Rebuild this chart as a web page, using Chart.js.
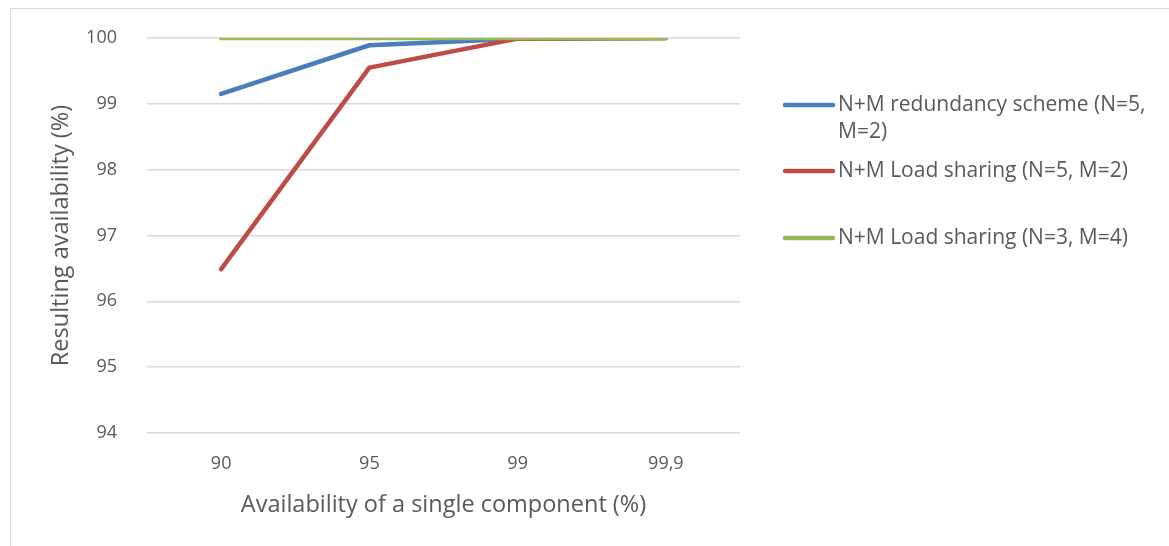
<!DOCTYPE html>
<html>
<head>
<meta charset="utf-8">
<script src="https://cdn.jsdelivr.net/npm/chart.js@4/dist/chart.umd.min.js"></script>
<style>
  html, body { margin: 0; padding: 0; background: #fff; }
  #wrap { position: relative; width: 1169px; height: 546px; overflow: hidden; }
  #frame { position: absolute; left: 10px; top: 8px; width: 1300px; height: 700px; border: 1px solid #d9d9d9; }
  canvas { position: absolute; left: 0; top: 0; }
</style>
</head>
<body>
<div id="wrap">
  <div id="frame"></div>
  <canvas id="myChart" width="1169" height="546"></canvas>
</div>
<script>
// data
var componentLabels = ["90", "95", "99", "99,9"];
var redundancyValues = [99.15, 99.89, 99.99, 100];
var loadSharing52 = [96.49, 99.55, 99.99, 100];
var loadSharing34 = [100, 100, 100, 100];
var seriesNames = [
    ["N+M redundancy scheme (N=5,", "M=2)"],
    ["N+M Load sharing (N=5, M=2)"],
    ["N+M Load sharing (N=3, M=4)"]
];

var textColor = "#595959";
var fontFamily = "'Open Sans', sans-serif";

// legend drawn by hand so the first entry can wrap onto two lines
var sideLegend = {
    id: "sideLegend",
    afterDraw: function (chart) {
        var ctx = chart.ctx;
        var rows = [105, 171, 238];
        ctx.save();
        ctx.font = "21px " + fontFamily;
        ctx.fillStyle = textColor;
        ctx.textBaseline = "middle";
        ctx.lineCap = "round";
        for (var i = 0; i < chart.data.datasets.length; i++) {
            var ds = chart.data.datasets[i];
            ctx.strokeStyle = ds.borderColor;
            ctx.lineWidth = 4.5;
            ctx.beginPath();
            ctx.moveTo(785, rows[i]);
            ctx.lineTo(833, rows[i]);
            ctx.stroke();
            for (var j = 0; j < seriesNames[i].length; j++) {
                ctx.fillText(seriesNames[i][j], 838, rows[i] + j * 27);
            }
        }
        ctx.restore();
    }
};

var ctx = document.getElementById("myChart").getContext("2d");
var chart = new Chart(ctx, {
    type: "line",
    data: {
        labels: componentLabels,
        datasets: [{
            label: seriesNames[0].join(" "),
            data: redundancyValues,
            borderColor: "#4a7ebb",
            order: 2
        }, {
            label: seriesNames[1][0],
            data: loadSharing52,
            borderColor: "#be4b48",
            order: 1
        }, {
            label: seriesNames[2][0],
            data: loadSharing34,
            borderColor: "#98b954",
            order: 0
        }]
    },
    options: {
        responsive: false,
        animation: false,
        layout: { padding: { left: 47, right: 429, top: 38, bottom: 27 } },
        elements: {
            line: { borderWidth: 4.5, tension: 0, borderCapStyle: "round", borderJoinStyle: "round", fill: false },
            point: { radius: 0, hoverRadius: 0 }
        },
        plugins: {
            legend: { display: false },
            tooltip: { enabled: false }
        },
        scales: {
            x: {
                offset: true,
                grid: { display: false, drawTicks: false },
                border: { display: false },
                ticks: { color: textColor, font: { family: fontFamily, size: 18 }, padding: 20 },
                title: { display: true, text: "Availability of a single component (%)", color: textColor, font: { family: fontFamily, size: 23.5 }, padding: 0 },
                afterFit: function (scale) { scale.height = 86; }
            },
            y: {
                min: 94,
                max: 100,
                ticks: { stepSize: 1, color: textColor, font: { family: fontFamily, size: 18 }, padding: 30 },
                grid: { color: "#d9d9d9", lineWidth: 1.5, drawTicks: false },
                border: { display: false },
                title: { display: true, text: "Resulting availability (%)", color: textColor, font: { family: fontFamily, size: 23.5 }, padding: 0 },
                afterFit: function (scale) {
                    scale.width = 100;
                    // tick padding would otherwise push the plot down
                    scale.paddingTop = 0;
                    scale.paddingBottom = 0;
                }
            }
        }
    },
    plugins: [sideLegend]
});
</script>
</body>
</html>
